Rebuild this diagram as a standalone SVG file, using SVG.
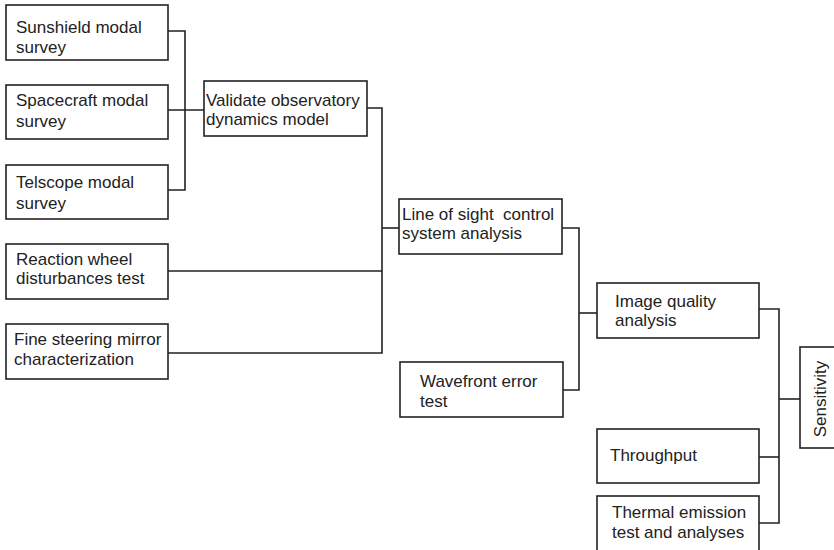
<svg xmlns="http://www.w3.org/2000/svg" width="834" height="550" viewBox="0 0 834 550">
  <style>
    .box { fill: #fff; stroke: #222; stroke-width: 1.6; }
    .lbl { font-family: "Liberation Sans", Arial, sans-serif; font-size: 17px; fill: #222; }
    .wire { fill: none; stroke: #222; stroke-width: 1.6; }
  </style>
  <rect width="834" height="550" fill="#fff"/>

  <!-- connectors -->
  <g id="connectors">
    <!-- modal surveys to dynamics model -->
    <polyline class="wire" points="168,31 185,31 185,190 168,190"/>
    <line class="wire" x1="168" y1="110" x2="204" y2="110"/>
    <!-- inputs to line-of-sight analysis -->
    <polyline class="wire" points="367,108 382,108 382,353 168,353"/>
    <line class="wire" x1="168" y1="271" x2="382" y2="271"/>
    <line class="wire" x1="382" y1="228" x2="399" y2="228"/>
    <!-- to image quality -->
    <polyline class="wire" points="562,228 579,228 579,390 563,390"/>
    <line class="wire" x1="579" y1="313" x2="597" y2="313"/>
    <!-- to sensitivity -->
    <polyline class="wire" points="759,309 779,309 779,523 759,523"/>
    <line class="wire" x1="759" y1="457" x2="779" y2="457"/>
    <line class="wire" x1="779" y1="399" x2="800" y2="399"/>
  </g>

  <g id="sunshield">
    <rect class="box" x="6" y="5" width="162" height="55"/>
    <text class="lbl" x="16" y="33">Sunshield modal</text>
    <text class="lbl" x="16" y="53">survey</text>
  </g>
  <g id="spacecraft">
    <rect class="box" x="6" y="85" width="162" height="54"/>
    <text class="lbl" x="16" y="106">Spacecraft modal</text>
    <text class="lbl" x="16" y="127">survey</text>
  </g>
  <g id="telescope">
    <rect class="box" x="6" y="165" width="162" height="54"/>
    <text class="lbl" x="16" y="188">Telscope modal</text>
    <text class="lbl" x="16" y="209">survey</text>
  </g>
  <g id="reaction-wheel">
    <rect class="box" x="6" y="244" width="162" height="55"/>
    <text class="lbl" x="16" y="265">Reaction wheel</text>
    <text class="lbl" x="16" y="284">disturbances test</text>
  </g>
  <g id="fine-steering">
    <rect class="box" x="6" y="324" width="162" height="55"/>
    <text class="lbl" x="14" y="345">Fine steering mirror</text>
    <text class="lbl" x="14" y="365">characterization</text>
  </g>
  <g id="validate">
    <rect class="box" x="204" y="81" width="163" height="55"/>
    <text class="lbl" x="206" y="106">Validate observatory</text>
    <text class="lbl" x="206" y="125">dynamics model</text>
  </g>
  <g id="line-of-sight">
    <rect class="box" x="399" y="199" width="163" height="55"/>
    <text class="lbl" x="402" y="220" xml:space="preserve">Line of sight  control</text>
    <text class="lbl" x="402" y="239">system analysis</text>
  </g>
  <g id="wavefront">
    <rect class="box" x="400" y="362" width="163" height="55"/>
    <text class="lbl" x="420" y="387">Wavefront error</text>
    <text class="lbl" x="420" y="407">test</text>
  </g>
  <g id="image-quality">
    <rect class="box" x="597" y="283" width="162" height="55"/>
    <text class="lbl" x="615" y="307">Image quality</text>
    <text class="lbl" x="615" y="326">analysis</text>
  </g>
  <g id="throughput">
    <rect class="box" x="597" y="429" width="162" height="54"/>
    <text class="lbl" x="610" y="461">Throughput</text>
  </g>
  <g id="thermal">
    <rect class="box" x="597" y="496" width="162" height="70"/>
    <text class="lbl" x="612" y="518">Thermal emission</text>
    <text class="lbl" x="612" y="538">test and analyses</text>
  </g>
  <g id="sensitivity">
    <rect class="box" x="800" y="347" width="50" height="101"/>
    <text class="lbl" x="0" y="0" text-anchor="middle" transform="translate(826,399) rotate(-90)">Sensitivity</text>
  </g>
</svg>
